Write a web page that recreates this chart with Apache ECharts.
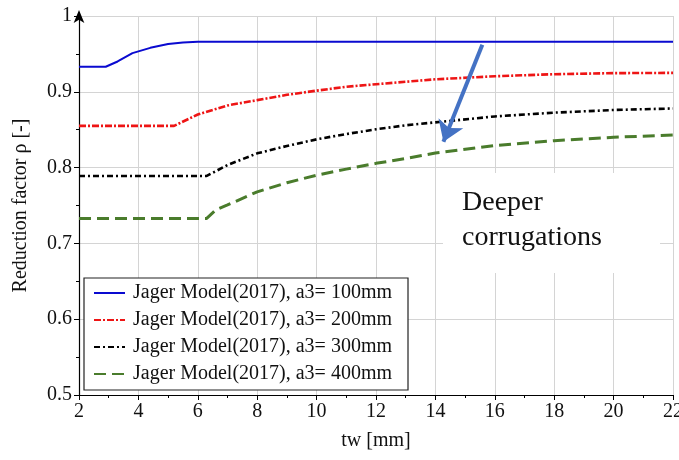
<!DOCTYPE html>
<html>
<head>
<meta charset="utf-8">
<script src="https://cdn.jsdelivr.net/npm/echarts@6/dist/echarts.min.js"></script>
<style>html,body{margin:0;padding:0;background:#fff}#c{width:679px;height:460px}</style>
</head>
<body>
<div id="c"></div>
<script>
// ---- data ----
var seriesNames = ['Jager Model(2017), a3= 100mm','Jager Model(2017), a3= 200mm','Jager Model(2017), a3= 300mm','Jager Model(2017), a3= 400mm'];
var tw100 = [2, 2.9, 3.3, 3.8, 4.4, 5.0, 5.5, 6.0, 22];
var rho100 = [0.933, 0.933, 0.940, 0.951, 0.958, 0.963, 0.965, 0.966, 0.966];
var tw200 = [2, 5.2, 6, 7, 8, 9, 10, 11, 12, 13, 14, 16, 18, 20, 22];
var rho200 = [0.855, 0.855, 0.870, 0.882, 0.889, 0.896, 0.9015, 0.9067, 0.910, 0.9133, 0.9165, 0.9205, 0.9232, 0.9246, 0.925];
var tw300 = [2, 6.3, 7, 8, 9, 10, 11, 12, 13, 14, 16, 18, 20, 22];
var rho300 = [0.789, 0.789, 0.8034, 0.8188, 0.8285, 0.8373, 0.8443, 0.8505, 0.8558, 0.8597, 0.8675, 0.8725, 0.876, 0.878];
var tw400 = [2, 6.3, 6.6, 7, 8, 9, 10, 11, 12, 13, 14, 16, 18, 20, 22];
var rho400 = [0.733, 0.733, 0.744, 0.7507, 0.768, 0.780, 0.790, 0.798, 0.8056, 0.812, 0.8192, 0.829, 0.8355, 0.840, 0.843];
var arrowFrom = [15.58, 0.962];
var arrowTo = [14.27, 0.834];
var xTicks = {min: 2, max: 22, interval: 2};
var yTicks = {min: 0.5, max: 1, interval: 0.1};
var noteText = 'Deeper\ncorrugations';

function pairs(xs, ys){ return xs.map(function(x,i){ return [x, ys[i]]; }); }

var serif = '"Liberation Serif", "Times New Roman", serif';
var chart = echarts.init(document.getElementById('c'), null, {renderer: 'canvas'});
var option = {
  animation: false,
  backgroundColor: '#ffffff',
  grid: {left: 79, right: 6, top: 16, bottom: 65, containLabel: false, outerBoundsMode: 'none'},
  xAxis: {
    type: 'value', min: xTicks.min, max: xTicks.max, interval: xTicks.interval,
    name: 'tw [mm]', nameLocation: 'middle', nameGap: 36,
    nameTextStyle: {fontFamily: serif, fontSize: 20, color: '#111'},
    axisLine: {show: true, onZero: false, lineStyle: {color: '#000', width: 1.2}},
    axisTick: {show: true, length: 5, lineStyle: {color: '#000'}},
    minorTick: {show: true, splitNumber: 2, length: 3, lineStyle: {color: '#000'}},
    splitLine: {show: true, lineStyle: {color: '#d4d4d4', width: 1}},
    axisLabel: {fontFamily: serif, fontSize: 20, color: '#111', margin: 7}
  },
  yAxis: {
    type: 'value', min: yTicks.min, max: yTicks.max, interval: yTicks.interval,
    name: 'Reduction factor ρ [-]', nameLocation: 'middle', nameGap: 48,
    nameTextStyle: {fontFamily: serif, fontSize: 20, color: '#111'},
    axisLine: {show: true, onZero: false, symbol: ['none', 'arrow'], symbolSize: [8, 13], symbolOffset: [0, 6], lineStyle: {color: '#000', width: 1.2}},
    axisTick: {show: true, length: 5, lineStyle: {color: '#000'}},
    minorTick: {show: true, splitNumber: 2, length: 3, lineStyle: {color: '#000'}},
    splitLine: {show: true, lineStyle: {color: '#d4d4d4', width: 1}},
    axisLabel: {fontFamily: serif, fontSize: 20, color: '#111', margin: 7}
  },
  legend: {
    orient: 'vertical', left: 84, top: 278,
    data: seriesNames,
    backgroundColor: '#fff', borderColor: '#222', borderWidth: 1.2,
    padding: [5, 16, 6, 9], itemGap: 7,
    itemWidth: 31, itemHeight: 14,
    itemStyle: {opacity: 0},
    textStyle: {fontFamily: serif, fontSize: 20, color: '#111', padding: [0, 0, 0, 3]}
  },
  graphic: [
    {type: 'rect', z: 10, shape: {x: 443, y: 173, width: 217, height: 100}, style: {fill: '#fff'}, silent: true},
    {type: 'text', z: 11, left: 462, top: 185, silent: true,
     style: {text: noteText, fontFamily: serif, fontSize: 28, lineHeight: 35, fill: '#111'}}
  ],
  series: [
    {name: seriesNames[0], type: 'line', data: pairs(tw100, rho100), symbol: 'none', smooth: false,
     lineStyle: {color: '#0a0ad0', width: 2}, itemStyle: {color: '#0a0ad0'}},
    {name: seriesNames[1], type: 'line', data: pairs(tw200, rho200), symbol: 'none',
     lineStyle: {color: '#ee1515', width: 2.6, type: [7, 2, 2, 2]}, itemStyle: {color: '#ee1515'}},
    {name: seriesNames[2], type: 'line', data: pairs(tw300, rho300), symbol: 'none',
     lineStyle: {color: '#000', width: 2.6, type: [6, 3, 2, 3]}, itemStyle: {color: '#000'}},
    {name: seriesNames[3], type: 'line', data: pairs(tw400, rho400), symbol: 'none', z: 12,
     lineStyle: {color: '#4a7c2c', width: 3, type: [12, 6]}, itemStyle: {color: '#4a7c2c'},
     markLine: {
       silent: true, animation: false, symbol: ['none', 'arrow'], symbolSize: 20,
       label: {show: false}, emphasis: {disabled: true},
       lineStyle: {color: '#4472c4', width: 4, type: 'solid'},
       data: [[{coord: arrowFrom}, {coord: arrowTo}]]
     }}
  ]
};
chart.setOption(option);
</script>
</body>
</html>
